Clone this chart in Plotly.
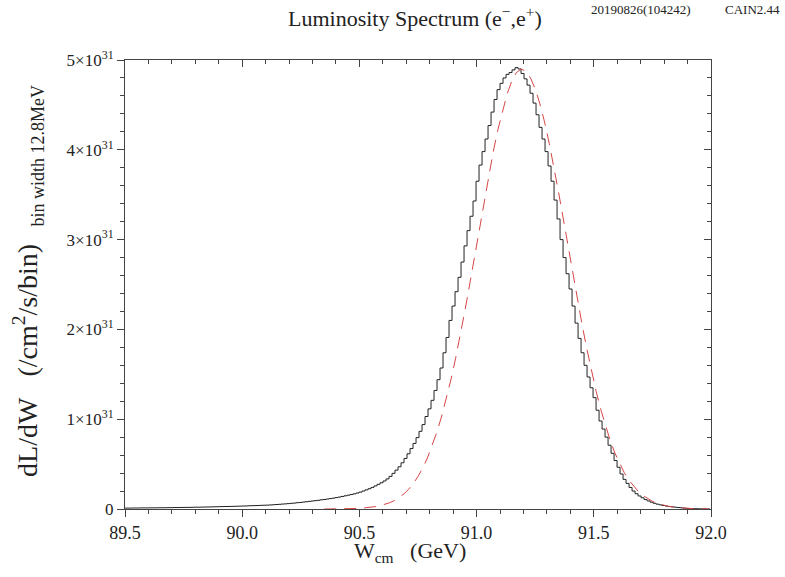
import plotly.graph_objects as go

## Data: luminosity in units of 1e31 /cm^2/s/bin
bin_start = 89.5
bin_width = 0.0128  # GeV (12.8 MeV)

lum_hist = [
    0.010, 0.010, 0.011, 0.011, 0.011, 0.012, 0.012, 0.012, 0.013, 0.013,
    0.013, 0.014, 0.014, 0.014, 0.015, 0.015, 0.016, 0.016, 0.017, 0.017,
    0.018, 0.018, 0.019, 0.020, 0.020, 0.021, 0.022, 0.022, 0.023, 0.024,
    0.025, 0.026, 0.027, 0.028, 0.028, 0.029, 0.030, 0.031, 0.032, 0.033,
    0.034, 0.036, 0.037, 0.038, 0.039, 0.041, 0.042, 0.043, 0.045, 0.047,
    0.050, 0.052, 0.055, 0.057, 0.060, 0.063, 0.066, 0.070, 0.073, 0.077,
    0.081, 0.085, 0.089, 0.093, 0.097, 0.102, 0.106, 0.111, 0.116, 0.121,
    0.127, 0.133, 0.140, 0.147, 0.154, 0.161, 0.169, 0.178, 0.188, 0.200,
    0.213, 0.226, 0.241, 0.257, 0.275, 0.292, 0.312, 0.335, 0.363, 0.397,
    0.433, 0.470, 0.515, 0.563, 0.615, 0.673, 0.730, 0.795, 0.865, 0.940,
    1.030, 1.115, 1.210, 1.320, 1.440, 1.570, 1.740, 1.910, 2.100, 2.260,
    2.420, 2.580, 2.750, 2.930, 3.100, 3.260, 3.430, 3.650, 3.830, 3.980,
    4.120, 4.270, 4.420, 4.560, 4.670, 4.740, 4.800, 4.840, 4.860, 4.890,
    4.915, 4.900, 4.850, 4.790, 4.720, 4.630, 4.520, 4.390, 4.250, 4.120,
    3.980, 3.820, 3.650, 3.440, 3.230, 3.000, 2.800, 2.620, 2.450, 2.260,
    2.070, 1.900, 1.740, 1.600, 1.470, 1.350, 1.240, 1.100, 0.980, 0.890,
    0.800, 0.710, 0.620, 0.540, 0.465, 0.390, 0.330, 0.285, 0.240, 0.200,
    0.170, 0.145, 0.125, 0.105, 0.090, 0.076, 0.064, 0.054, 0.046, 0.039,
    0.033, 0.028, 0.024, 0.020, 0.016, 0.013, 0.010, 0.007, 0.005, 0.004,
    0.003, 0.002, 0.001, 0.001, 0.000,
]

fit_start = 90.35
fit_step = 0.02
lum_fit = [
    0.000, 0.000, 0.001, 0.001, 0.002, 0.003, 0.004, 0.006, 0.009, 0.013,
    0.019, 0.027, 0.038, 0.052, 0.071, 0.095, 0.128, 0.168, 0.220, 0.284,
    0.362, 0.456, 0.568, 0.700, 0.852, 1.025, 1.220, 1.435, 1.672, 1.930,
    2.205, 2.495, 2.795, 3.100, 3.400, 3.690, 3.965, 4.215, 4.435, 4.620,
    4.765, 4.860, 4.900, 4.875, 4.800, 4.678, 4.512, 4.308, 4.070, 3.806,
    3.523, 3.229, 2.926, 2.629, 2.335, 2.052, 1.787, 1.538, 1.311, 1.106,
    0.923, 0.762, 0.623, 0.504, 0.404, 0.320, 0.251, 0.195, 0.150, 0.114,
    0.086, 0.064, 0.047, 0.035, 0.025, 0.018, 0.013, 0.009, 0.006, 0.004,
    0.003, 0.002, 0.001,
]

y_tickvals = [0, 1, 2, 3, 4, 5]
y_ticktext = ['0'] + ['%d\u00d710<sup>31</sup>' % v for v in y_tickvals[1:]]

## Styling
font_family = 'Liberation Serif, DejaVu Serif, serif'
axis_col = '#444444'
hist_col = '#222222'
fit_col = '#d64545'

hist_x = [bin_start + bin_width * i for i in range(len(lum_hist) + 1)]
hist_y = lum_hist + [lum_hist[-1]]
fit_x = [fit_start + fit_step * i for i in range(len(lum_fit))]

fig = go.Figure()
fig.add_trace(go.Scatter(
    x=hist_x, y=hist_y, mode='lines', line=dict(color=hist_col, width=1, shape='hv'),
    showlegend=False
))
fig.add_trace(go.Scatter(
    x=fit_x, y=lum_fit, mode='lines', xaxis='x2', yaxis='y2',
    line=dict(color=fit_col, width=1, dash='12px,8px'),
    showlegend=False
))

x_common = dict(range=[89.5, 92.0], showgrid=False, zeroline=False, showline=True,
                linecolor=axis_col, linewidth=1, tickcolor=axis_col, tick0=89.5, dtick=0.5,
                automargin=False)
y_common = dict(range=[0, 5], showgrid=False, zeroline=False, showline=True,
                linecolor=axis_col, linewidth=1, tickcolor=axis_col, automargin=False)


def label(text, x, y, size, angle=0, xanchor='center'):
    """Paper-positioned text anchored at (x, y)"""
    return dict(text=text, x=x, y=y, xref='paper', yref='paper', showarrow=False,
                xanchor=xanchor, yanchor='middle', textangle=angle,
                font=dict(size=size))


fig.update_layout(
    width=785, height=577,
    margin=dict(l=125, r=74, t=60, b=68),
    paper_bgcolor='white', plot_bgcolor='white',
    font=dict(family=font_family, size=14, color='#222222'),
    xaxis=dict(**x_common, ticks='outside', ticklen=7, tickformat='.1f',
               tickfont=dict(size=18),
               minor=dict(tickmode='linear', tick0=89.5, dtick=0.1, ticks='outside',
                          ticklen=4, tickcolor=axis_col)),
    yaxis=dict(**y_common, ticks='outside', ticklen=7, tickmode='array',
               tickvals=y_tickvals, ticktext=y_ticktext, tickfont=dict(size=17),
               minor=dict(tickmode='linear', tick0=0, dtick=0.2, ticks='outside',
                          ticklen=4, tickcolor=axis_col)),
    xaxis2=dict(**x_common, overlaying='x', side='top', anchor='y', ticks='inside',
                ticklen=7, showticklabels=False,
                minor=dict(tickmode='linear', tick0=89.5, dtick=0.1, ticks='inside',
                           ticklen=4, tickcolor=axis_col)),
    yaxis2=dict(**y_common, overlaying='y', side='right', anchor='x', ticks='inside',
                ticklen=7, showticklabels=False, dtick=1,
                minor=dict(tickmode='linear', tick0=0, dtick=0.2, ticks='inside',
                           ticklen=4, tickcolor=axis_col)),
    annotations=[
        label('Luminosity Spectrum (e<sup>\u2212</sup>,e<sup>+</sup>)', 0.495, 1.096, 22),
        label('20190826(104242)', 0.969, 1.112, 13, xanchor='right'),
        label('CAIN2.44', 1.122, 1.112, 13, xanchor='right'),
        label('W<sub>cm</sub>&nbsp;&nbsp;&nbsp;(GeV)', 0.486, -0.096, 22),
        label('dL/dW&nbsp;&nbsp;&nbsp;(/cm<sup>2</sup>/s/bin)', -0.169, 0.332, 28, -90),
        label('bin width 12.8MeV', -0.148, 0.788, 18, -90),
    ],
    dragmode=False
)

fig.write_html('out.html', config={'displayModeBar': False},
               post_script="document.body.style.margin='0';")
